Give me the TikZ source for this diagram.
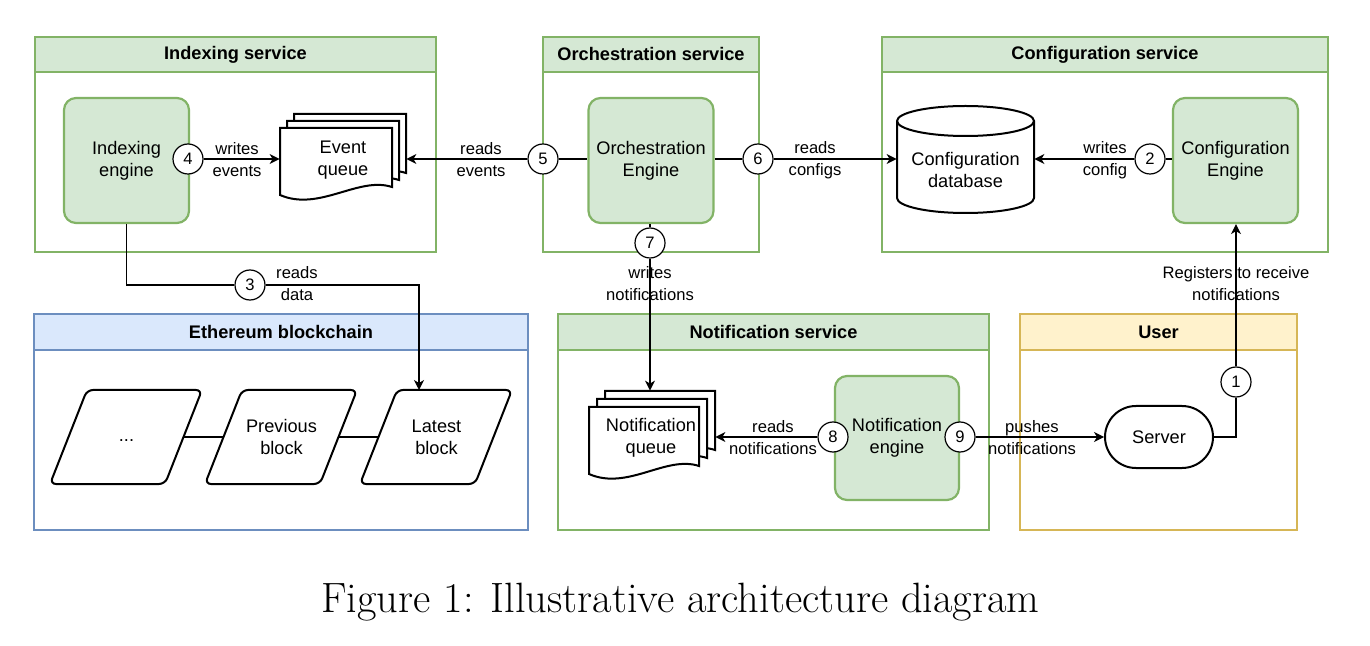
\documentclass[tikz,border=0pt]{standalone}
\usepackage{fontspec}
\newfontfamily\dfont{Liberation Sans}
\usetikzlibrary{arrows.meta,fit,calc}
\definecolor{gfill}{HTML}{D5E8D4}
\definecolor{gline}{HTML}{82B366}
\definecolor{bfill}{HTML}{DAE8FC}
\definecolor{bline}{HTML}{6C8EBF}
\definecolor{yfill}{HTML}{FFF2CC}
\definecolor{yline}{HTML}{D6B656}
\newcommand\mainfs{\dfont\fontsize{9.1}{11}\selectfont}
\newcommand\labfs{\dfont\fontsize{8.3}{11}\selectfont}
\newcommand\headfs{\dfont\bfseries\fontsize{9.1}{11}\selectfont}
\newcommand\mydocshape[3]{%
  \filldraw[docline] (#1,#2) -- (#1+#3,#2) -- (#1+#3,#2+59)
    .. controls (#1+0.7*#3,#2+48) and (#1+0.35*#3,#2+84) .. (#1,#2+67) -- cycle;}
\newcommand\myblock[1]{%
  \filldraw[docline, rounded corners=3pt] (#1,484) -- (#1+37,390) -- (#1+152,390) -- (#1+115,484) -- cycle;}
\begin{document}
\begin{tikzpicture}[x=0.5pt,y=-0.5pt,
  cont/.style={draw=#1, line width=0.6pt, inner sep=0pt},
  hdr/.style 2 args={fill=#1, draw=#2, line width=0.6pt, inner sep=0pt},
  hdrtxt/.style={font=\headfs, inner sep=0pt},
  eng/.style={draw=gline, fill=gfill, line width=1.1pt, rounded corners=6pt, align=center,
    inner sep=0pt, font=\mainfs, minimum size=62.5pt},
  num/.style={circle, draw, fill=white, line width=0.6pt, minimum size=15pt, inner sep=0pt, font=\labfs},
  lab/.style={font=\labfs, align=center, inner sep=0pt},
  txt/.style={font=\mainfs, align=center, inner sep=0pt},
  docline/.style={draw=black, fill=white, line width=1pt},
  conn/.style={line width=0.6pt},
  arr/.style={line width=0.6pt, -{Stealth[length=5pt,width=5pt,inset=1.5pt]}},
  srvbox/.style={draw, fill=white, line width=1pt, rounded corners=15.5pt, minimum width=54pt,
    minimum height=31pt, font=\mainfs, inner sep=0pt}]
\useasboundingbox (0,0) rectangle (1370,646);

% containers
\node[cont=gline, fit={(35,37)(436,252)}] (isvc) {};
\node[hdr={gfill}{gline}, fit={(35,37)(436,72)}] (isvch) {};
\node[hdrtxt] at (isvch.center) {Indexing service};
\node[cont=gline, fit={(543,37)(759,252)}] (osvc) {};
\node[hdr={gfill}{gline}, fit={(543,37)(759,72)}] (osvch) {};
\node[hdrtxt] at (osvch.center) {Orchestration service};
\node[cont=gline, fit={(882,37)(1328,252)}] (csvc) {};
\node[hdr={gfill}{gline}, fit={(882,37)(1328,72)}] (csvch) {};
\node[hdrtxt] at (csvch.center) {Configuration service};
\node[cont=bline, fit={(34,314)(528,530)}] (eth) {};
\node[hdr={bfill}{bline}, fit={(34,314)(528,350)}] (ethh) {};
\node[hdrtxt] at (ethh.center) {Ethereum blockchain};
\node[cont=gline, fit={(558,314)(989,530)}] (nsvc) {};
\node[hdr={gfill}{gline}, fit={(558,314)(989,350)}] (nsvch) {};
\node[hdrtxt] at (nsvch.center) {Notification service};
\node[cont=yline, fit={(1020,314)(1297,530)}] (usr) {};
\node[hdr={yfill}{yline}, fit={(1020,314)(1297,350)}] (usrh) {};
\node[hdrtxt] at (usrh.center) {User};

% engines
\node[eng] (ie) at (126.5,160.5) {Indexing\\engine};
\node[eng] (oe) at (651,160.5) {Orchestration\\Engine};
\node[eng] (ce) at (1235.5,160.5) {Configuration\\Engine};
\node[eng, minimum size=62pt] (ne) at (897,438) {Notification\\engine};

% event queue
\mydocshape{294}{114}{112}
\mydocshape{287}{121}{112}
\mydocshape{280}{128}{112}
\node[inner sep=0pt, fit={(280,114)(406,203)}] (eq) {};
\node[txt] (eqt) at (343,160) {Event\\queue};

% notification queue
\mydocshape{605}{391}{110}
\mydocshape{597}{399}{110}
\mydocshape{589}{407}{110}
\node[inner sep=0pt, fit={(589,391)(715,481)}] (nq) {};
\node[txt] (nqt) at (651,438) {Notification\\queue};

% configuration database
\filldraw[docline] (897,121) -- (897,198) .. controls (897,206.3) and (927.7,213) .. (965.5,213)
  .. controls (1003.3,213) and (1034,206.3) .. (1034,198) -- (1034,121)
  .. controls (1034,112.7) and (1003.3,106) .. (965.5,106)
  .. controls (927.7,106) and (897,112.7) .. (897,121) -- cycle;
\draw[docline, fill=none] (897,121) .. controls (897,129.3) and (927.7,136) .. (965.5,136)
  .. controls (1003.3,136) and (1034,129.3) .. (1034,121);
\node[inner sep=0pt, fit={(897,106)(1034,213)}] (db) {};
\node[txt] (dbt) at (965.5,170) {Configuration\\database};

% server
\node[srvbox] (srv) at (1159,437) {Server};

% blocks
\myblock{50}
\myblock{205}
\myblock{360}
\node[txt] (b1) at (126.5,441) {...};
\node[txt] (b2) at (281.5,437) {Previous\\block};
\node[txt] (b3) at (436.5,437) {Latest\\block};
\coordinate (b1r) at (183.5,437);
\coordinate (b2l) at (223.5,437);
\coordinate (b2r) at (338.5,437);
\coordinate (b3l) at (378.5,437);
\coordinate (b3t) at (419,390);

% step circles
\node[num] (c1) at (1236,382) {1};
\node[num] (c2) at (1150,159) {2};
\node[num] (c3) at (250,285) {3};
\node[num] (c4) at (188,159) {4};
\node[num] (c5) at (543,159) {5};
\node[num] (c6) at (758,159) {6};
\node[num] (c7) at (650,243) {7};
\node[num] (c8) at (833,437) {8};
\node[num] (c9) at (960,437) {9};

% connectors
\draw[conn] (b1r) -- (b2l);
\draw[conn] (b2r) -- (b3l);
\draw[arr] (c4) -- (c4 -| eq.west);
\draw[conn] (c5) -- (c5 -| oe.west);
\draw[arr] (c5) -- (c5 -| eq.east);
\draw[conn] (oe.east |- c6) -- (c6);
\draw[arr] (c6) -- (c6 -| db.west);
\draw[conn] (ce.west |- c2) -- (c2);
\draw[arr] (c2) -- (c2 -| db.east);
\draw[conn] (ie.south) |- (c3);
\draw[arr] (c3) -| (b3t);
\draw[conn] (oe.south -| c7) -- (c7);
\draw[arr] (c7) -- (c7 |- nq.north);
\draw[arr] (c8) -- (c8 -| nq.east);
\draw[arr] (c9) -- (srv.west);
\draw[conn] (srv.east) -| (c1);
\draw[arr] (c1) -- (ce.south -| c1);

% labels
\node[lab] (l4) at (237,160) {writes\\events};
\node[lab] (l5) at (481,160) {reads\\events};
\node[lab] (l6) at (815,160) {reads\\configs};
\node[lab] (l2) at (1105,160) {writes\\config};
\node[lab] (l3) at (297,284) {reads\\data};
\node[lab] (l7) at (650,284) {writes\\notifications};
\node[lab] (l1) at (1236,284) {Registers to receive\\notifications};
\node[lab] (l8) at (773,438) {reads\\notifications};
\node[lab] (l9) at (1032,438) {pushes\\notifications};

% caption
\node[font=\fontsize{21.2}{25}\selectfont, anchor=base, inner sep=0pt] (cap) at (680.5,612)
  {Figure 1: Illustrative architecture diagram};
\end{tikzpicture}
\end{document}
